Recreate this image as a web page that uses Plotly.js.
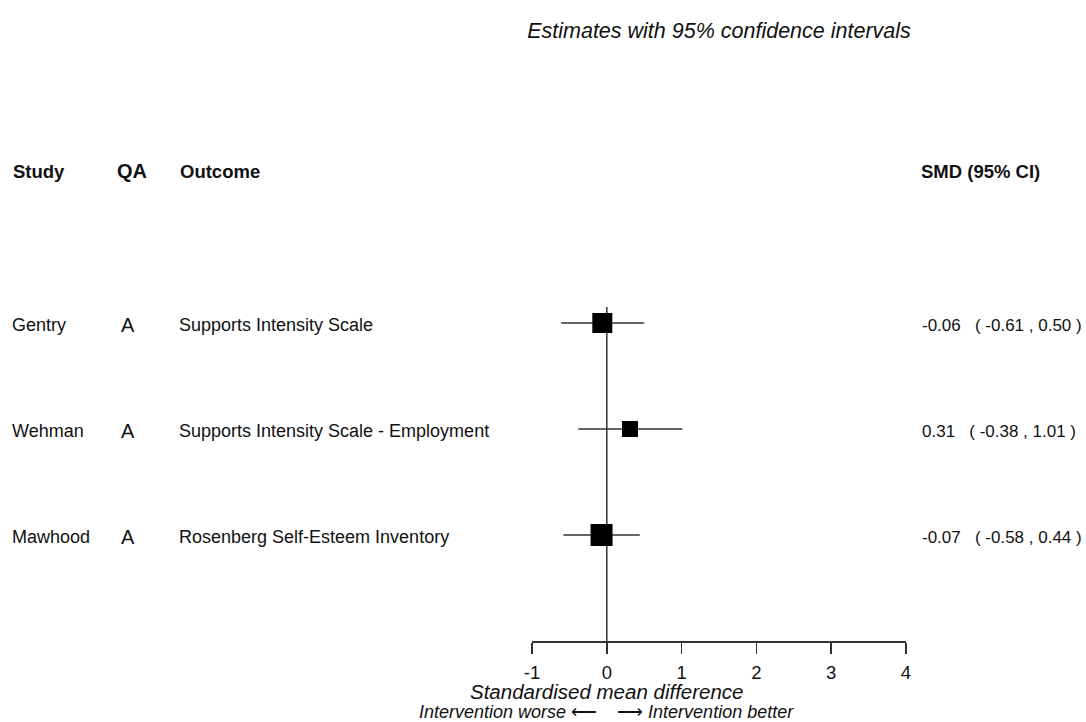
<!DOCTYPE html>
<html>
<head>
<meta charset="utf-8">
<script src="https://cdn.plot.ly/plotly-3.0.1.min.js"></script>
<style>html,body{margin:0;padding:0;background:#fff;}#chart{width:1086px;height:722px;}</style>
</head>
<body>
<div id="chart"></div>
<script>
// ---- data ----
var studies = ["Gentry", "Wehman", "Mawhood"];
var qa = ["A", "A", "A"];
var outcomes = ["Supports Intensity Scale", "Supports Intensity Scale - Employment", "Rosenberg Self-Esteem Inventory"];
var smd = [-0.06, 0.31, -0.07];
var ciLow = [-0.61, -0.38, -0.58];
var ciHigh = [0.50, 1.01, 0.44];
var weights = [20, 16, 22];           // relative box sizes
var rowPos = [3, 2, 1];               // row positions (top to bottom)
var xTicks = [-1, 0, 1, 2, 3, 4];
var headers = ["Study", "QA", "Outcome", "SMD (95% CI)"];

var FONT = "Liberation Sans, Arial, sans-serif";
var TXT = "#111";

function fmt(v){ return v.toFixed(2); }
var ciText = smd.map(function(v,i){
  return fmt(v) + "   ( " + fmt(ciLow[i]) + " , " + fmt(ciHigh[i]) + " )";
});

var trace = {
  type: "scatter", mode: "markers",
  x: smd, y: rowPos,
  marker: {symbol: "square", size: weights, color: "#000", opacity: 1, line: {width: 0}},
  error_x: {
    type: "data", symmetric: false,
    array: smd.map(function(v,i){ return ciHigh[i]-v; }),
    arrayminus: smd.map(function(v,i){ return v-ciLow[i]; }),
    width: 0, thickness: 1.5, color: "#333"
  },
  hoverinfo: "skip", showlegend: false, cliponaxis: false
};

var ann = [];
var hdrY = 0.733;
var rowShift = -0.02;
ann.push({xref:"paper", yref:"paper", x:-(532-11)/374, y:hdrY, xanchor:"left", yanchor:"middle", text:"<b>"+headers[0]+"</b>", showarrow:false, font:{family:FONT, size:18.5, color:TXT}});
ann.push({xref:"paper", yref:"paper", x:-(532-132)/374, y:hdrY, xanchor:"center", yanchor:"middle", text:"<b>"+headers[1]+"</b>", showarrow:false, font:{family:FONT, size:20, color:TXT}});
ann.push({xref:"paper", yref:"paper", x:-(532-178)/374, y:hdrY, xanchor:"left", yanchor:"middle", text:"<b>"+headers[2]+"</b>", showarrow:false, font:{family:FONT, size:18.5, color:TXT}});
ann.push({xref:"paper", yref:"paper", x:(919-532)/374, y:hdrY, xanchor:"left", yanchor:"middle", text:"<b>"+headers[3]+"</b>", showarrow:false, font:{family:FONT, size:18.5, color:TXT}});
for (var i=0;i<studies.length;i++){
  var ty = rowPos[i] + rowShift;
  ann.push({xref:"paper", yref:"y", x:-(532-10)/374, y:ty, xanchor:"left", yanchor:"middle", text:studies[i], showarrow:false, font:{family:FONT, size:18, color:TXT}});
  ann.push({xref:"paper", yref:"y", x:-(532-128)/374, y:ty, xanchor:"center", yanchor:"middle", text:qa[i], showarrow:false, font:{family:FONT, size:20, color:TXT}});
  ann.push({xref:"paper", yref:"y", x:-(532-177)/374, y:ty, xanchor:"left", yanchor:"middle", text:outcomes[i], showarrow:false, font:{family:FONT, size:18, color:TXT}});
  ann.push({xref:"paper", yref:"y", x:(920-532)/374, y:ty, xanchor:"left", yanchor:"middle", text:ciText[i], showarrow:false, font:{family:FONT, size:17, color:TXT}});
}
ann.push({xref:"x", yref:"paper", x:0, y:-0.079, xanchor:"center", yanchor:"middle", text:"<i>Standardised mean difference</i>", showarrow:false, borderpad:0, font:{family:FONT, size:20.5, color:TXT}});
ann.push({xref:"x", yref:"paper", x:0, y:-0.1115, xanchor:"center", yanchor:"middle", text:"<i>Intervention worse</i> \u27F5    \u27F6 <i>Intervention better</i>", showarrow:false, borderpad:0, font:{family:FONT, size:18, color:TXT}});

var layout = {
  width: 1086, height: 722,
  margin: {l: 532, r: 180, t: 0, b: 81},
  paper_bgcolor: "#fff", plot_bgcolor: "#fff",
  title: {text: "<i>Estimates with 95% confidence intervals</i>", font: {family: FONT, size: 21.5, color: TXT}, xref: "paper", x: 0.5, xanchor: "center", yref: "container", y: 1 - 30/722, yanchor: "middle"},
  xaxis: {
    range: [-1, 4], tickvals: xTicks, ticktext: xTicks.map(String),
    showgrid: false, zeroline: false, showline: true, linecolor: "#333", linewidth: 1.5,
    ticks: "outside", ticklen: 11, tickwidth: 1.5, tickcolor: "#333",
    ticklabelstandoff: 3,
    tickfont: {family: FONT, size: 18.5, color: TXT}, fixedrange: true
  },
  yaxis: {range: [0, 6.047], visible: false, showgrid: false, zeroline: false, fixedrange: true},
  shapes: [{type: "line", xref: "x", yref: "y", x0: 0, x1: 0, y0: 0, y1: 3.15, line: {color: "#333", width: 1.5}, layer: "below"}],
  annotations: ann,
  showlegend: false
};

Plotly.newPlot("chart", [trace], layout, {displayModeBar: false, staticPlot: true});
</script>
</body>
</html>
